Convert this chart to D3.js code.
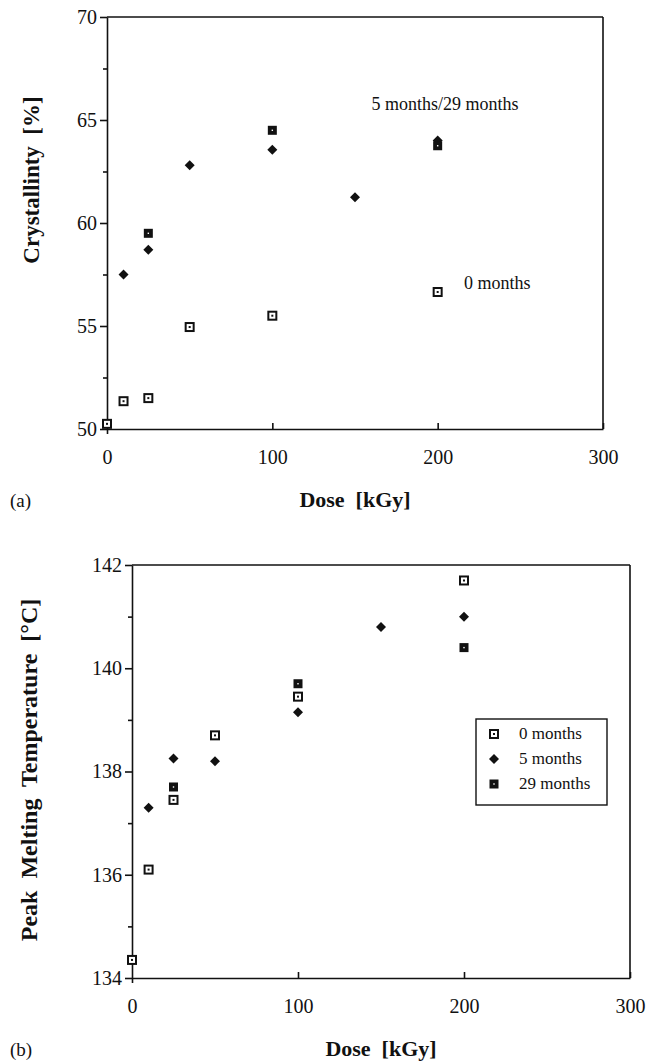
<!DOCTYPE html>
<html>
<head>
<meta charset="utf-8">
<script src="https://cdn.jsdelivr.net/npm/d3@7"></script>
<style>
  body { margin: 0; background: #fff; }
  svg { display: block; }
  text { font-family: "Liberation Serif", "Times New Roman", serif; fill: #111; }
</style>
</head>
<body>
<svg id="fig"></svg>
<script>
// dose [kGy] for each storage time
var dose0 = [0, 10, 25, 50, 100, 200];
var dose5 = [10, 25, 50, 100, 150, 200];
var dose29 = [25, 100, 200];

// (a) crystallinity [%]
var cryst0 = [50.25, 51.35, 51.5, 54.95, 55.5, 56.65];
var cryst5 = [57.5, 58.7, 62.8, 63.55, 61.25, 64.0];
var cryst29 = [59.5, 64.5, 63.75];

// (b) peak melting temperature [°C]
var melt0 = [134.35, 136.1, 137.45, 138.7, 139.45, 141.7];
var melt5 = [137.3, 138.25, 138.2, 139.15, 140.8, 141.0];
var melt29 = [137.7, 139.7, 140.4];

var xTicks = [0, 100, 200, 300];
var yTicksA = [50, 55, 60, 65, 70], yMinorA = [52.5, 57.5, 62.5, 67.5];
var yTicksB = [134, 136, 138, 140, 142], yMinorB = [135, 137, 139, 141];
var seriesNames = ["0 months", "5 months", "29 months"];

var W = 655, H = 1064;
var svg = d3.select("#fig").attr("width", W).attr("height", H);

function marker(g, kind, cx, cy) {
    if (kind == 0) {
        g.append("rect").attr("x", cx - 4).attr("y", cy - 4).attr("width", 8).attr("height", 8)
            .attr("fill", "#fff").attr("stroke", "#111").attr("stroke-width", 2);
        g.append("rect").attr("x", cx - 1).attr("y", cy - 1).attr("width", 2).attr("height", 2).attr("fill", "#111");
    } else if (kind == 1) {
        g.append("path").attr("d", "M" + cx + "," + (cy - 5) + "L" + (cx + 5) + "," + cy + "L" + cx + "," + (cy + 5) + "L" + (cx - 5) + "," + cy + "Z")
            .attr("fill", "#111");
    } else {
        g.append("rect").attr("x", cx - 4.5).attr("y", cy - 4.5).attr("width", 9).attr("height", 9).attr("fill", "#111");
        g.append("rect").attr("x", cx - 0.7).attr("y", cy - 0.7).attr("width", 1.4).attr("height", 1.4).attr("fill", "#fff");
    }
}

function drawPanel(p) {
    var x = d3.scaleLinear().domain([0, 300]).range([p.left, p.right]);
    var y = d3.scaleLinear().domain(p.yDomain).range([p.bottom, p.top]);
    var g = svg.append("g");

    // frame: top and right
    g.append("line").attr("x1", p.left).attr("x2", p.right).attr("y1", p.top).attr("y2", p.top)
        .attr("stroke", "#111").attr("stroke-width", 1.6);
    g.append("line").attr("x1", p.right).attr("x2", p.right).attr("y1", p.top).attr("y2", p.bottom)
        .attr("stroke", "#111").attr("stroke-width", 1.6);

    var yAxis = g.append("g").attr("transform", "translate(" + p.left + ",0)")
        .call(d3.axisLeft(y).tickValues(p.yTicks).tickSize(7).tickSizeOuter(0).tickPadding(3).tickFormat(d3.format("d")));
    yAxis.selectAll("text").style("font-size", "20px");
    g.append("g").attr("transform", "translate(" + p.left + ",0)")
        .call(d3.axisLeft(y).tickValues(p.yMinor).tickSize(4).tickFormat(""))
        .select(".domain").remove();

    var xAxis = g.append("g").attr("transform", "translate(0," + p.bottom + ")")
        .call(d3.axisBottom(x).tickValues(xTicks).tickSizeInner(-6).tickSizeOuter(0).tickPadding(21));
    xAxis.selectAll("text").style("font-size", "20px");
    xAxis.selectAll(".tick line").filter(function(d) { return d == 0; }).attr("y2", 5);

    g.selectAll(".domain, .tick line").attr("stroke", "#111").attr("stroke-width", 1.6);

    // points
    var pts = g.append("g");
    p.series.forEach(function(s, k) {
        s.xs.forEach(function(d, i) { marker(pts, k, x(d), y(s.ys[i])); });
    });

    // axis titles
    g.append("text").attr("x", (p.left + p.right) / 2).attr("y", p.bottom + 78)
        .attr("text-anchor", "middle").style("font-size", "22px").style("font-weight", "bold")
        .attr("xml:space", "preserve").text("Dose  [kGy]");
    g.append("text").attr("transform", "translate(" + p.yTitleX + "," + p.yTitleY + ") rotate(-90)")
        .attr("text-anchor", "middle").style("font-size", p.yTitleSize).style("font-weight", "bold")
        .attr("xml:space", "preserve").text(p.yTitle);
    g.append("text").attr("x", 10).attr("y", p.bottom + 78).style("font-size", "19px").text(p.tag);

    return { g: g, x: x, y: y };
}

var a = drawPanel({
    left: 107, right: 603, top: 17, bottom: 429,
    yDomain: [50, 70], yTicks: yTicksA, yMinor: yMinorA,
    series: [{ xs: dose0, ys: cryst0 }, { xs: dose5, ys: cryst5 }, { xs: dose29, ys: cryst29 }],
    yTitle: "Crystallinty  [%]", yTitleX: 39, yTitleY: 180, yTitleSize: "23px", tag: "(a)"
});
a.g.append("text").attr("x", a.x(160)).attr("y", a.y(65.5)).style("font-size", "18px").text("5 months/29 months");
a.g.append("text").attr("x", a.x(216)).attr("y", a.y(56.8)).style("font-size", "18px").text("0 months");

var b = drawPanel({
    left: 132, right: 630, top: 565, bottom: 978,
    yDomain: [134, 142], yTicks: yTicksB, yMinor: yMinorB,
    series: [{ xs: dose0, ys: melt0 }, { xs: dose5, ys: melt5 }, { xs: dose29, ys: melt29 }],
    yTitle: "Peak  Melting  Temperature  [°C]", yTitleX: 37, yTitleY: 770, yTitleSize: "24px", tag: "(b)"
});

// legend box
var lg = b.g.append("g").attr("transform", "translate(476,719)");
lg.append("rect").attr("width", 131).attr("height", 86).attr("fill", "#fff")
    .attr("stroke", "#111").attr("stroke-width", 1.4);
seriesNames.forEach(function(name, k) {
    var yy = 15 + k * 25;
    marker(lg, k, 18, yy);
    lg.append("text").attr("x", 43).attr("y", yy + 5).style("font-size", "17px").text(name);
});
</script>
</body>
</html>
